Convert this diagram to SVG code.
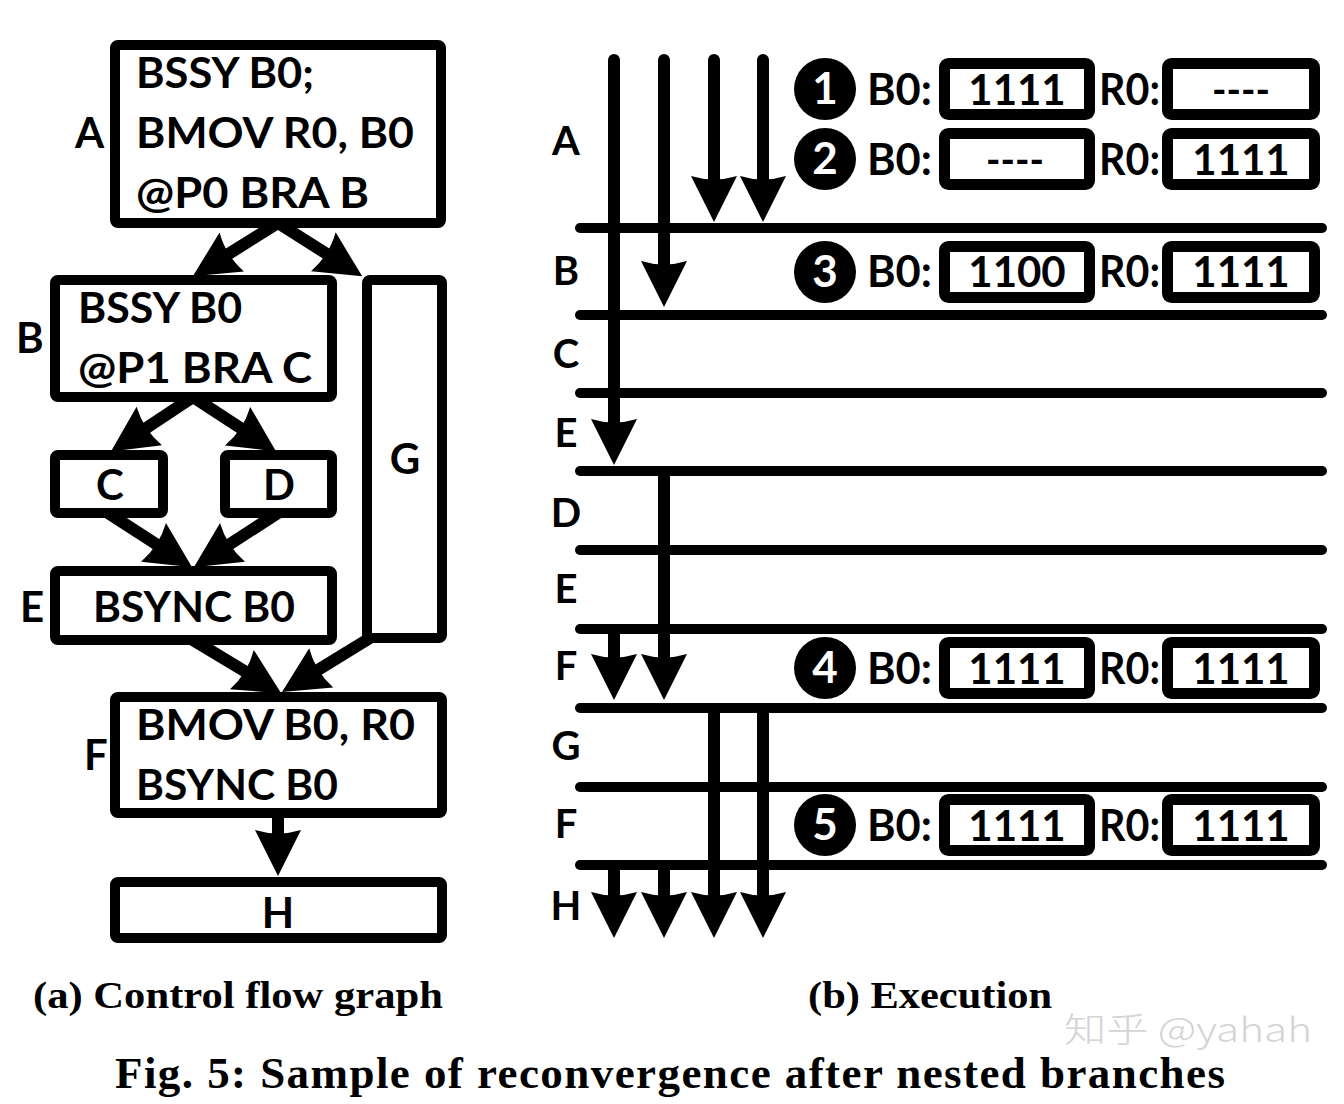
<svg xmlns="http://www.w3.org/2000/svg" width="1344" height="1104" viewBox="0 0 1344 1104">
<style>
.box{fill:#fff;stroke:#000;stroke-width:10}
.t{font-family:Lato,"Open Sans","DejaVu Sans",sans-serif;font-weight:bold;fill:#000}
.cfg{font-size:42px}
.lbl{font-size:40px;text-anchor:middle}
.con{stroke:#000;stroke-width:12;fill:none;marker-end:url(#ah)}
.hl{stroke:#000;stroke-width:10;stroke-linecap:round;fill:none}
.th{stroke:#000;stroke-width:12;fill:none;marker-end:url(#ah)}
.vb{fill:#fff;stroke:#000;stroke-width:11}
.num{font-size:44px;fill:#fff;text-anchor:middle}
.reg{font-size:43px}
.val{font-size:42px;text-anchor:middle}
.cap{font-family:"Liberation Serif","Times New Roman",serif;font-weight:bold;fill:#000}
</style>
<defs>
<marker id="ah" markerUnits="userSpaceOnUse" orient="auto" markerWidth="100" markerHeight="100" refX="0" refY="0" viewBox="-50 -50 100 100" overflow="visible">
<path d="M38 0 L-8 -23 Q-1 0 -8 23 Z" fill="#000"/>
</marker>
</defs>
<rect width="1344" height="1104" fill="#fff"/>

<!-- (a) Control flow graph -->
<g id="connectors-a">
<polyline class="con" points="278,223 225,256.2"/>
<polyline class="con" points="278,223 330.1,256"/>
<polyline class="con" points="193,397 142.6,430.4"/>
<polyline class="con" points="193,397 244.3,430.6"/>
<polyline class="con" points="108,513 160.2,546.7"/>
<polyline class="con" points="278,513 225.8,546.7"/>
<polyline class="con" points="193,640 248.7,673.7"/>
<polyline class="con" points="370,638 314.4,672.1"/>
<polyline class="con" points="278,813 278,838"/>
</g>

<g id="node-A">
<rect class="box" x="115" y="45" width="326" height="178" rx="3"/>
<text class="t cfg" x="136" y="88" textLength="178" lengthAdjust="spacingAndGlyphs">BSSY B0;</text>
<text class="t cfg" x="136" y="148" textLength="278" lengthAdjust="spacingAndGlyphs">BMOV R0, B0</text>
<text class="t cfg" x="136" y="208" textLength="233" lengthAdjust="spacingAndGlyphs">@P0 BRA B</text>
<text class="t cfg" x="75" y="148">A</text>
</g>
<g id="node-B">
<rect class="box" x="55" y="280" width="277" height="117" rx="3"/>
<text class="t cfg" x="78" y="323" textLength="164" lengthAdjust="spacingAndGlyphs">BSSY B0</text>
<text class="t cfg" x="78" y="383" textLength="234" lengthAdjust="spacingAndGlyphs">@P1 BRA C</text>
<text class="t cfg" x="16" y="353">B</text>
</g>
<g id="node-G">
<rect class="box" x="367" y="280" width="75" height="358" rx="3"/>
<text class="t cfg" x="405" y="474" text-anchor="middle">G</text>
</g>
<g id="node-C">
<rect class="box" x="55" y="455" width="108" height="58" rx="3"/>
<text class="t cfg" x="110" y="500" text-anchor="middle">C</text>
</g>
<g id="node-D">
<rect class="box" x="225" y="455" width="107" height="58" rx="3"/>
<text class="t cfg" x="279" y="500" text-anchor="middle">D</text>
</g>
<g id="node-E">
<rect class="box" x="55" y="571" width="277" height="69" rx="3"/>
<text class="t cfg" x="93" y="622" textLength="202" lengthAdjust="spacingAndGlyphs">BSYNC B0</text>
<text class="t cfg" x="20" y="622">E</text>
</g>
<g id="node-F">
<rect class="box" x="115" y="697" width="327" height="116" rx="3"/>
<text class="t cfg" x="136" y="740" textLength="279" lengthAdjust="spacingAndGlyphs">BMOV B0, R0</text>
<text class="t cfg" x="136" y="800" textLength="202" lengthAdjust="spacingAndGlyphs">BSYNC B0</text>
<text class="t cfg" x="84" y="770">F</text>
</g>
<g id="node-H">
<rect class="box" x="115" y="882" width="327" height="56" rx="3"/>
<text class="t cfg" x="278" y="928" text-anchor="middle">H</text>
</g>

<!-- (b) Execution -->
<g id="timeline">
<line class="hl" x1="580" y1="228" x2="1322" y2="228"/>
<line class="hl" x1="580" y1="315" x2="1322" y2="315"/>
<line class="hl" x1="580" y1="393" x2="1322" y2="393"/>
<line class="hl" x1="580" y1="471" x2="1322" y2="471"/>
<line class="hl" x1="580" y1="550" x2="1322" y2="550"/>
<line class="hl" x1="580" y1="629" x2="1322" y2="629"/>
<line class="hl" x1="580" y1="708" x2="1322" y2="708"/>
<line class="hl" x1="580" y1="787" x2="1322" y2="787"/>
<line class="hl" x1="580" y1="865" x2="1322" y2="865"/>
</g>
<g id="row-labels">
<text class="t lbl" x="566" y="155">A</text>
<text class="t lbl" x="566" y="285">B</text>
<text class="t lbl" x="566" y="368">C</text>
<text class="t lbl" x="566" y="447">E</text>
<text class="t lbl" x="566" y="527">D</text>
<text class="t lbl" x="566" y="603">E</text>
<text class="t lbl" x="566" y="680">F</text>
<text class="t lbl" x="566" y="760">G</text>
<text class="t lbl" x="566" y="838">F</text>
<text class="t lbl" x="566" y="920">H</text>
</g>
<g id="connectors-b">
<line class="th" x1="614" y1="60" x2="614" y2="427" stroke-linecap="round"/>
<line class="th" x1="664" y1="60" x2="664" y2="269" stroke-linecap="round"/>
<line class="th" x1="714" y1="60" x2="714" y2="184" stroke-linecap="round"/>
<line class="th" x1="763" y1="60" x2="763" y2="184" stroke-linecap="round"/>
<line class="th" x1="664" y1="471" x2="664" y2="662"/>
<line class="th" x1="614" y1="629" x2="614" y2="662"/>
<line class="th" x1="714" y1="708" x2="714" y2="900"/>
<line class="th" x1="763" y1="708" x2="763" y2="900"/>
<line class="th" x1="614" y1="865" x2="614" y2="900"/>
<line class="th" x1="664" y1="865" x2="664" y2="900"/>
</g>

<g id="state-1">
<circle cx="825" cy="89" r="31" fill="#000"/>
<text class="t num" x="825" y="104">1</text>
<text class="t reg" x="867" y="105" textLength="65" lengthAdjust="spacingAndGlyphs">B0:</text>
<rect class="vb" x="944.5" y="63.5" width="145" height="51" rx="4"/>
<text class="t val" x="1017" y="105">1111</text>
<text class="t reg" x="1099" y="105" textLength="61" lengthAdjust="spacingAndGlyphs">R0:</text>
<rect class="vb" x="1167.5" y="63.5" width="147" height="51" rx="4"/>
<text class="t val" x="1241" y="105" font-size="46" textLength="58" lengthAdjust="spacingAndGlyphs">----</text>
</g>
<g id="state-2">
<circle cx="825" cy="159" r="31" fill="#000"/>
<text class="t num" x="825" y="174">2</text>
<text class="t reg" x="867" y="175" textLength="65" lengthAdjust="spacingAndGlyphs">B0:</text>
<rect class="vb" x="944.5" y="133.5" width="145" height="51" rx="4"/>
<text class="t val" x="1015" y="175" font-size="46" textLength="58" lengthAdjust="spacingAndGlyphs">----</text>
<text class="t reg" x="1099" y="175" textLength="61" lengthAdjust="spacingAndGlyphs">R0:</text>
<rect class="vb" x="1167.5" y="133.5" width="147" height="51" rx="4"/>
<text class="t val" x="1241" y="175">1111</text>
</g>
<g id="state-3">
<circle cx="825" cy="272" r="31" fill="#000"/>
<text class="t num" x="825" y="287">3</text>
<text class="t reg" x="867" y="287" textLength="65" lengthAdjust="spacingAndGlyphs">B0:</text>
<rect class="vb" x="944.5" y="246.5" width="145" height="51" rx="4"/>
<text class="t val" x="1017" y="287">1100</text>
<text class="t reg" x="1099" y="287" textLength="61" lengthAdjust="spacingAndGlyphs">R0:</text>
<rect class="vb" x="1167.5" y="246.5" width="147" height="51" rx="4"/>
<text class="t val" x="1241" y="287">1111</text>
</g>
<g id="state-4">
<circle cx="825" cy="668" r="31" fill="#000"/>
<text class="t num" x="825" y="683">4</text>
<text class="t reg" x="867" y="684" textLength="65" lengthAdjust="spacingAndGlyphs">B0:</text>
<rect class="vb" x="944.5" y="642.5" width="145" height="51" rx="4"/>
<text class="t val" x="1017" y="684">1111</text>
<text class="t reg" x="1099" y="684" textLength="61" lengthAdjust="spacingAndGlyphs">R0:</text>
<rect class="vb" x="1167.5" y="642.5" width="147" height="51" rx="4"/>
<text class="t val" x="1241" y="684">1111</text>
</g>
<g id="state-5">
<circle cx="825" cy="825" r="31" fill="#000"/>
<text class="t num" x="825" y="840">5</text>
<text class="t reg" x="867" y="841" textLength="65" lengthAdjust="spacingAndGlyphs">B0:</text>
<rect class="vb" x="944.5" y="799.5" width="145" height="51" rx="4"/>
<text class="t val" x="1017" y="841">1111</text>
<text class="t reg" x="1099" y="841" textLength="61" lengthAdjust="spacingAndGlyphs">R0:</text>
<rect class="vb" x="1167.5" y="799.5" width="147" height="51" rx="4"/>
<text class="t val" x="1241" y="841">1111</text>
</g>

<g id="captions">
<text class="cap" x="33" y="1008" font-size="38" textLength="410" lengthAdjust="spacingAndGlyphs">(a) Control flow graph</text>
<text class="cap" x="808" y="1008" font-size="38" textLength="244" lengthAdjust="spacingAndGlyphs">(b) Execution</text>
<text class="cap" x="115" y="1088" font-size="45" textLength="1110" lengthAdjust="spacing">Fig. 5: Sample of reconvergence after nested branches</text>
</g>
<text x="1064" y="1042" font-family="'Noto Sans CJK SC','Noto Sans',sans-serif" font-size="34" font-weight="300" fill="#d4d4d4" textLength="248" lengthAdjust="spacingAndGlyphs">知乎 @yahah</text>
</svg>
